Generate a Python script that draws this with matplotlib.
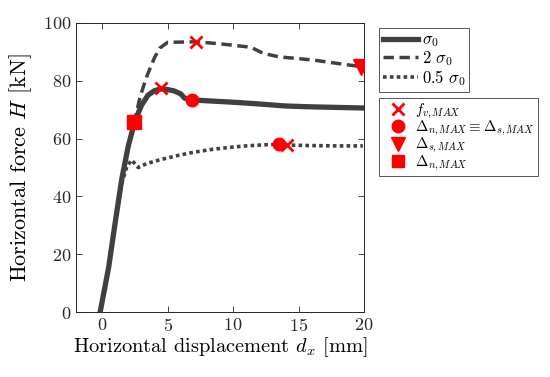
import matplotlib
matplotlib.use("Agg")
import matplotlib.pyplot as plt
from matplotlib.lines import Line2D

plt.rcParams.update({
    "font.family": "cmr10",
    "mathtext.fontset": "cm",
    "axes.unicode_minus": False,
    "axes.formatter.use_mathtext": True,
    "font.size": 12,
})

# sigma_0 curve
dx_s1 = [-0.15, 0.5, 1.0, 1.5, 2.0, 2.5, 3.0, 3.5, 4.0, 4.5, 5.0, 5.5, 6.0, 6.3, 6.9,
         8.0, 10.0, 12.0, 14.0, 16.0, 18.0, 20.0]
H_s1 = [0.0, 15.5, 31.0, 46.0, 57.5, 66.0, 71.5, 75.0, 76.6, 77.2, 77.0, 76.5, 75.5, 74.0, 73.4,
        73.1, 72.6, 72.0, 71.3, 71.0, 70.8, 70.6]

# 2 sigma_0 curve
dx_s2 = [-0.15, 0.5, 1.0, 1.5, 2.0, 2.5, 2.9, 3.4, 4.0, 4.4, 5.0, 6.0, 7.2, 9.0, 11.0, 11.5,
         12.3, 13.5, 16.1, 18.0, 19.8]
H_s2 = [0.0, 15.5, 31.0, 46.0, 57.5, 66.4, 74.5, 81.4, 88.0, 91.3, 93.3, 93.4, 93.5, 92.8, 91.8, 91.3,
        89.5, 88.3, 87.2, 86.0, 84.9]

# 0.5 sigma_0 curve
dx_s05 = [-0.15, 0.5, 1.0, 1.5, 1.9, 2.26, 2.76, 3.4, 4.5, 5.9, 7.0, 8.4, 10.0, 11.0, 12.5, 13.5,
          14.1, 16.0, 18.0, 19.9]
H_s05 = [0.0, 15.5, 31.0, 44.5, 50.5, 52.6, 50.0, 51.4, 52.8, 54.3, 55.3, 56.3, 57.1, 57.5, 57.9, 58.0,
         57.8, 57.6, 57.5, 57.5]

# characteristic points
fv_max_x = [4.5, 7.2, 14.1]
fv_max_y = [77.4, 93.5, 57.8]
dn_eq_ds_x = [6.9, 13.5]
dn_eq_ds_y = [73.4, 58.0]
ds_max_x = [19.8]
ds_max_y = [84.9]
dn_max_x = [2.43]
dn_max_y = [65.6]

line_col = "#404040"
red = "#ff0000"

fig = plt.figure(figsize=(5.5, 3.77), dpi=100)
ax = fig.add_axes([0.138, 0.172, 0.524, 0.767])

l1, = ax.plot(dx_s1, H_s1, "-", color=line_col, lw=3.8, label=r"$\sigma_0$")
l2, = ax.plot(dx_s2, H_s2, "--", color=line_col, lw=2.5, dashes=(3, 1.6), label=r"2 $\sigma_0$")
l3, = ax.plot(dx_s05, H_s05, ":", color=line_col, lw=2.6, dashes=(1, 0.9), label=r"0.5 $\sigma_0$")

ax.plot(dn_eq_ds_x, dn_eq_ds_y, "o", color=red, ms=9, zorder=5)
ax.plot(ds_max_x, ds_max_y, "v", color=red, ms=11, zorder=5)
ax.plot(dn_max_x, dn_max_y, "s", color=red, ms=9.5, zorder=5)
ax.plot(fv_max_x, fv_max_y, "x", color=red, ms=8, mew=2, zorder=6)

ax.set_xlim(-2, 20)
ax.set_ylim(0, 100)
ax.set_xticks([0, 5, 10, 15, 20])
ax.set_yticks([0, 20, 40, 60, 80, 100])
ax.tick_params(direction="in", top=True, right=True, length=4, width=0.6,
               labelsize=13, colors="#262626")
for s in ax.spines.values():
    s.set_linewidth(0.7)
    s.set_color("#262626")

ax.set_xlabel(r"Horizontal displacement $d_x$ [mm]", fontsize=14.7, labelpad=1)
ax.set_ylabel(r"Horizontal force $H$ [kN]", fontsize=16, labelpad=6)

leg1 = fig.legend(handles=[l1, l2, l3], loc="upper left",
                  bbox_to_anchor=(379 / 550, 1 - 28 / 377), fancybox=False,
                  edgecolor="#555555", framealpha=1, fontsize=12,
                  handlelength=2.1, handletextpad=0.2, borderpad=0.25,
                  labelspacing=0.0, borderaxespad=0)
leg1.get_frame().set_linewidth(0.7)

mk = [
    Line2D([], [], ls="none", marker="x", color=red, ms=8, mew=2, label=r"$f_{v,MAX}$"),
    Line2D([], [], ls="none", marker="o", color=red, ms=9,
           label=r"$\Delta_{n,MAX} \equiv \Delta_{s,MAX}$"),
    Line2D([], [], ls="none", marker="v", color=red, ms=10, label=r"$\Delta_{s,MAX}$"),
    Line2D([], [], ls="none", marker="s", color=red, ms=9, label=r"$\Delta_{n,MAX}$"),
]
leg2 = fig.legend(handles=mk, loc="upper left",
                  bbox_to_anchor=(379 / 550, 1 - 98 / 377), fancybox=False,
                  edgecolor="#555555", framealpha=1, fontsize=10.7,
                  handlelength=2.0, handletextpad=0.15, borderpad=0.25,
                  labelspacing=-0.12, borderaxespad=0)
leg2.get_frame().set_linewidth(0.7)

fig.savefig("out.png", dpi=100)
